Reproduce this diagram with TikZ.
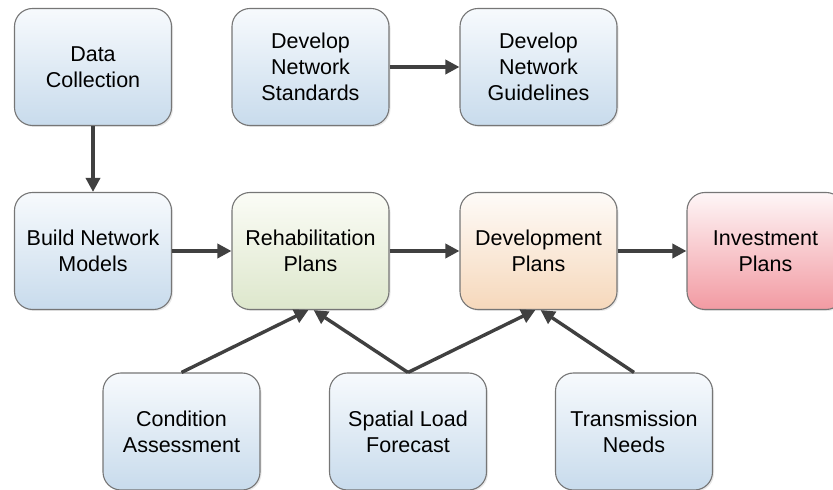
\documentclass[tikz,border=0pt]{standalone}
\usepackage{fontspec}
\setmainfont{Liberation Sans}
\usetikzlibrary{arrows.meta,shadows}
\definecolor{boxline}{HTML}{767676}
\definecolor{linkgray}{HTML}{404040}
\definecolor{blueTop}{HTML}{F7FAFD}
\definecolor{blueBot}{HTML}{C8DBEC}
\definecolor{greenTop}{HTML}{FBFCF6}
\definecolor{greenBot}{HTML}{DDE7CC}
\definecolor{orangeTop}{HTML}{FEFBF8}
\definecolor{orangeBot}{HTML}{F6D8BB}
\definecolor{redTop}{HTML}{FEF6F7}
\definecolor{redBot}{HTML}{F29AA2}
\begin{document}
\begin{tikzpicture}[x=1pt, y=1pt, font=\fontsize{21.5}{26}\selectfont, line join=round,
 >={Triangle[length=14pt,width=14pt]},
 plan/.style={draw=boxline, line width=1.1pt, rounded corners=18pt, minimum width=157pt,
  minimum height=117pt, inner sep=0pt, align=center,
  drop shadow={opacity=0.18, shadow xshift=1.5pt, shadow yshift=-1.5pt}},
 bluebox/.style={top color=blueTop, bottom color=blueBot},
 greenbox/.style={top color=greenTop, bottom color=greenBot},
 orangebox/.style={top color=orangeTop, bottom color=orangeBot},
 redbox/.style={top color=redTop, bottom color=redBot},
 link/.style={->, line width=3.4pt, draw=linkgray, fill=linkgray}]
 \useasboundingbox (0,0) rectangle (833,490);
 \node[plan,bluebox] (data) at (93,423) {Data\\Collection};
 \node[plan,bluebox] (stds) at (310.5,423) {Develop\\Network\\Standards};
 \node[plan,bluebox] (guide) at (538.5,423) {Develop\\Network\\Guidelines};
 \node[plan,bluebox] (build) at (93,239) {Build Network\\Models};
 \node[plan,greenbox] (rehab) at (310.5,239) {Rehabilitation\\Plans};
 \node[plan,orangebox] (devp) at (538.5,239) {Development\\Plans};
 \node[plan,redbox] (invest) at (765.5,239) {Investment\\Plans};
 \node[plan,bluebox] (cond) at (181.5,58.5) {Condition\\Assessment};
 \node[plan,bluebox] (load) at (408,58.5) {Spatial Load\\Forecast};
 \node[plan,bluebox] (trans) at (634,58.5) {Transmission\\Needs};
 \draw[link] (data) -- (build);
 \draw[link] (stds) -- (guide);
 \draw[link] (build) -- (rehab);
 \draw[link] (rehab) -- (devp);
 \draw[link] (devp) -- (invest);
 %entradas desde abajo
 \draw[link] (cond.north) -- (rehab.268);
 \draw[link] (load.north) -- (rehab.273);
 \draw[link] (load.north) -- (devp.267);
 \draw[link] (trans.north) -- (devp.272);
\end{tikzpicture}
\end{document}
